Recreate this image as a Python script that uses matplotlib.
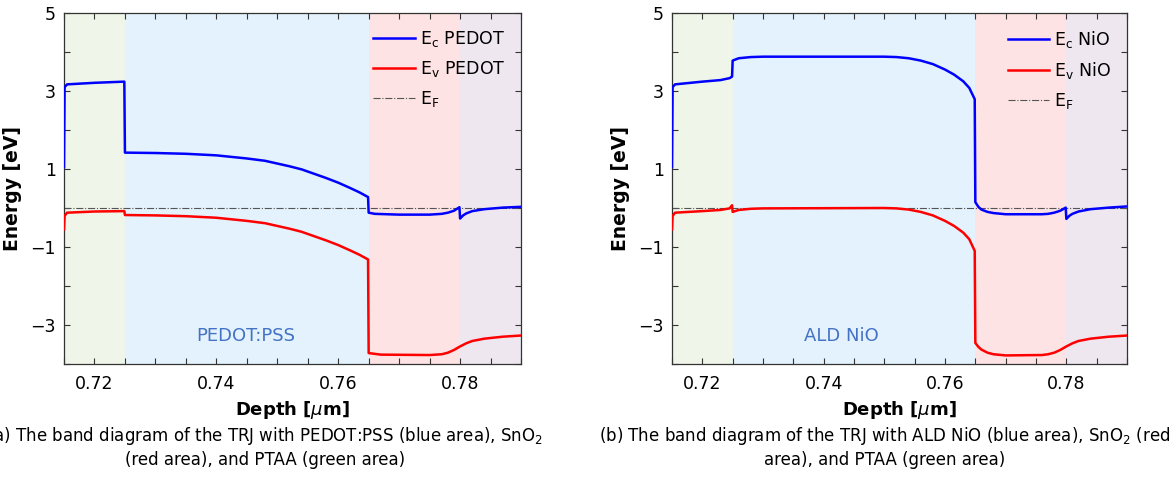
import numpy as np
import matplotlib.pyplot as plt
from matplotlib.ticker import MultipleLocator, FixedLocator

# layer boundaries [um]
x_min, x_max = 0.715, 0.79
layers = [0.715, 0.725, 0.765, 0.78, 0.79]
layer_colors = ['#eff5e8', '#e3f2fc', '#fde3e3', '#eee7f0']

# PEDOT:PSS device
d_ec_a = [0.7150, 0.7151, 0.7155, 0.7200, 0.7249, 0.7250, 0.7300, 0.7350, 0.7400,
          0.7450, 0.7480, 0.7500, 0.7520, 0.7540, 0.7560, 0.7580, 0.7600, 0.7620,
          0.7635, 0.7649, 0.7650, 0.7660, 0.7700, 0.7750, 0.7770, 0.7780, 0.7790,
          0.7799, 0.7800, 0.7805, 0.7810, 0.7820, 0.7840, 0.7870, 0.7900]
ec_a = [1.05, 3.10, 3.17, 3.21, 3.24, 1.42, 1.41, 1.39, 1.35,
        1.27, 1.21, 1.14, 1.07, 0.99, 0.88, 0.77, 0.65, 0.51,
        0.40, 0.28, -0.12, -0.15, -0.17, -0.17, -0.15, -0.12, -0.07,
        0.02, -0.27, -0.19, -0.14, -0.08, -0.03, 0.01, 0.03]
d_ev_a = [0.7150, 0.7151, 0.7155, 0.7200, 0.7249, 0.7250, 0.7300, 0.7350, 0.7400,
          0.7450, 0.7480, 0.7500, 0.7520, 0.7540, 0.7560, 0.7580, 0.7600, 0.7620,
          0.7635, 0.7649, 0.7650, 0.7670, 0.7750, 0.7770, 0.7780, 0.7790, 0.7800,
          0.7810, 0.7820, 0.7840, 0.7870, 0.7900]
ev_a = [-0.55, -0.20, -0.12, -0.09, -0.08, -0.18, -0.19, -0.21, -0.25,
        -0.33, -0.39, -0.46, -0.53, -0.61, -0.72, -0.83, -0.95, -1.09,
        -1.20, -1.32, -3.72, -3.76, -3.77, -3.75, -3.71, -3.64, -3.55,
        -3.47, -3.41, -3.35, -3.30, -3.27]

# ALD NiO device
d_ec_b = [0.7150, 0.7151, 0.7155, 0.7200, 0.7230, 0.7245, 0.7249, 0.7250, 0.7260,
          0.7280, 0.7300, 0.7500, 0.7520, 0.7540, 0.7560, 0.7580, 0.7600, 0.7615,
          0.7630, 0.7640, 0.7649, 0.7650, 0.7655, 0.7660, 0.7670, 0.7680, 0.7700,
          0.7760, 0.7770, 0.7780, 0.7790, 0.7799, 0.7800, 0.7805, 0.7810, 0.7820,
          0.7840, 0.7870, 0.7900]
ec_b = [1.05, 3.10, 3.17, 3.24, 3.28, 3.33, 3.37, 3.78, 3.84,
        3.87, 3.88, 3.88, 3.87, 3.84, 3.78, 3.69, 3.55, 3.42,
        3.25, 3.08, 2.79, 0.15, 0.03, -0.04, -0.10, -0.13, -0.16,
        -0.16, -0.15, -0.12, -0.07, 0.01, -0.28, -0.20, -0.15, -0.09,
        -0.03, 0.01, 0.04]
d_ev_b = [0.7150, 0.7151, 0.7155, 0.7200, 0.7230, 0.7245, 0.7249, 0.7250, 0.7260,
          0.7280, 0.7300, 0.7500, 0.7520, 0.7540, 0.7560, 0.7580, 0.7600, 0.7615,
          0.7630, 0.7640, 0.7649, 0.7650, 0.7655, 0.7660, 0.7670, 0.7680, 0.7700,
          0.7760, 0.7770, 0.7780, 0.7790, 0.7800, 0.7810, 0.7820, 0.7840, 0.7870,
          0.7900]
ev_b = [-0.55, -0.20, -0.12, -0.08, -0.05, -0.01, 0.07, -0.10, -0.05,
        -0.02, -0.01, 0.00, -0.01, -0.04, -0.10, -0.19, -0.33, -0.46,
        -0.63, -0.80, -1.10, -3.46, -3.56, -3.63, -3.71, -3.75, -3.78,
        -3.77, -3.75, -3.71, -3.64, -3.55, -3.47, -3.41, -3.35, -3.30,
        -3.27]

captions = [
    r'(a) The band diagram of the TRJ with PEDOT:PSS (blue area), SnO$_\mathregular{2}$' + '\n(red area), and PTAA (green area)',
    r'(b) The band diagram of the TRJ with ALD NiO (blue area), SnO$_\mathregular{2}$ (red' + '\narea), and PTAA (green area)',
]

fig = plt.figure(figsize=(11.76, 4.82), dpi=100)
ax1 = fig.add_axes([64/1176, 1-364/482, 457/1176, 351/482])
ax2 = fig.add_axes([672/1176, 1-364/482, 455/1176, 351/482])


def panel(ax, d_ec, ec, d_ev, ev, name, region_text, text_x):
    for i in range(4):
        ax.axvspan(layers[i], layers[i+1], color=layer_colors[i], lw=0, zorder=0)
    ax.plot(d_ec, ec, color='#0000ff', lw=1.8, label=r'E$_\mathregular{c}$ ' + name, zorder=3)
    ax.plot(d_ev, ev, color='#ff0000', lw=1.8, label=r'E$_\mathregular{v}$ ' + name, zorder=3)
    ax.plot([x_min, x_max], [0, 0], color='#555555', lw=0.8, ls='-.', label=r'E$_\mathregular{F}$', zorder=2)
    ax.set_xlim(x_min, x_max)
    ax.set_ylim(-4, 5)
    ax.xaxis.set_major_locator(FixedLocator([0.72, 0.74, 0.76, 0.78]))
    ax.xaxis.set_minor_locator(MultipleLocator(0.005))
    ax.yaxis.set_major_locator(FixedLocator([-3, -1, 1, 3, 5]))
    ax.yaxis.set_minor_locator(MultipleLocator(1))
    ax.set_xticklabels(['0.72', '0.74', '0.76', '0.78'])
    ax.set_yticklabels(['\u22123', '\u22121', '1', '3', '5'])
    ax.tick_params(which='both', direction='in', top=True, right=True, length=4, width=0.8,
                   color='#333333')
    ax.tick_params(axis='x', labelsize=12.5, pad=8)
    ax.tick_params(axis='y', labelsize=12.5, pad=6)
    for s in ax.spines.values():
        s.set_color('#333333')
        s.set_linewidth(0.9)
    ax.set_xlabel(r'Depth [$\mu$m]', fontsize=13, fontweight='bold', labelpad=4)
    ax.set_ylabel('Energy [eV]', fontsize=13.5, fontweight='bold', labelpad=6)
    ax.text(text_x, -3.28, region_text, color='#4472c4', fontsize=13, ha='center', va='center')
    ax.legend(loc='upper right', frameon=False, fontsize=12.5, handlelength=2.4,
              handletextpad=0.3, labelspacing=0.6, borderaxespad=0.5)


panel(ax1, d_ec_a, ec_a, d_ev_a, ev_a, 'PEDOT', 'PEDOT:PSS', 0.7449)
panel(ax2, d_ec_b, ec_b, d_ev_b, ev_b, 'NiO', 'ALD NiO', 0.7429)

fig.text(265/1176, 1-447/482, captions[0], ha='center', va='center', fontsize=12, linespacing=1.3)
fig.text(885/1176, 1-447/482, captions[1], ha='center', va='center', fontsize=12, linespacing=1.3)

fig.savefig('out.png', dpi=100)
